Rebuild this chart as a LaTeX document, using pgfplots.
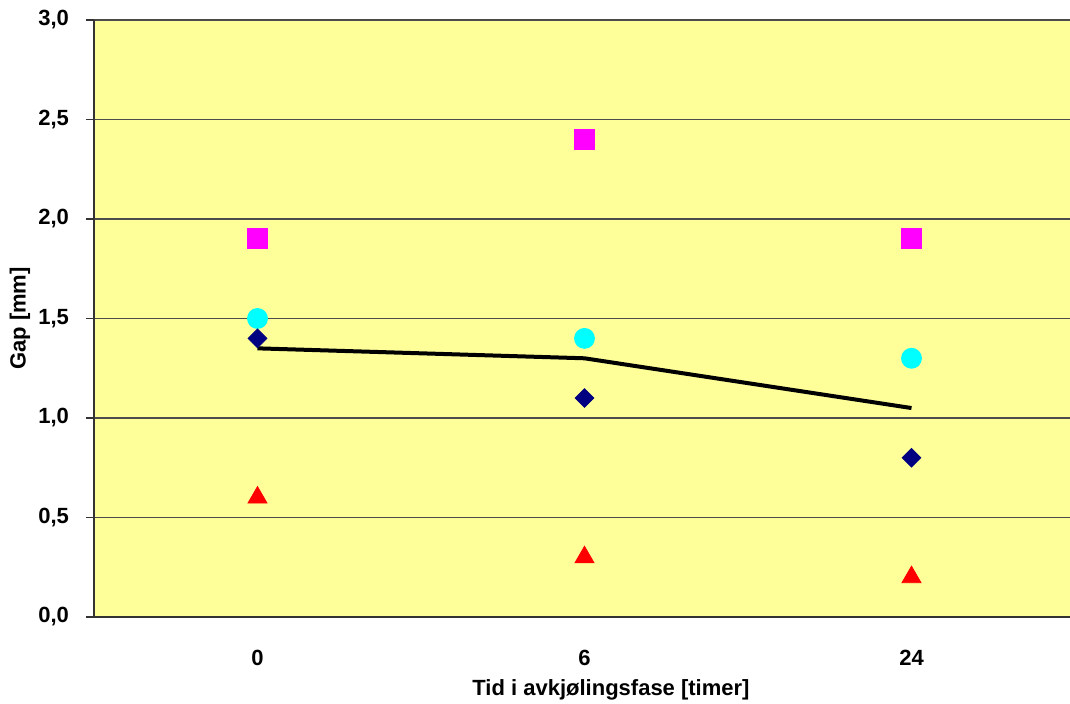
\documentclass[border=0pt]{standalone}
\usepackage{pgfplots}
\pgfplotsset{compat=1.18}
\usepackage{fontspec}
\setmainfont{Liberation Sans}
\definecolor{bgyellow}{HTML}{FFFF99}
\definecolor{navy}{HTML}{000080}
\definecolor{cyanmark}{HTML}{00FFFF}
\definecolor{magentamark}{HTML}{FF00FF}
\begin{document}
\begin{tikzpicture}[x=1pt,y=1pt]
\begin{axis}[
  at={(0,0)}, anchor=south west,
  scale only axis,
  width=490.5pt, height=298.5pt,
  xmin=-0.5, xmax=2.5,
  ymin=0, ymax=3,
  axis background/.style={fill=bgyellow},
  axis x line*=bottom, axis y line*=left,
  axis line style={black!80, line width=0.9pt},
  xtick={0,1,2}, xticklabels={0,6,24},
  extra x ticks={-0.5,0.5,1.5,2.5}, extra x tick labels={},
  extra x tick style={tick style={black!80, line width=0.8pt}, major tick length=4pt},
  major x tick style={draw=none},
  ytick={0,0.5,...,3.0},
  yticklabel style={/pgf/number format/fixed, /pgf/number format/fixed zerofill,
    /pgf/number format/precision=1, /pgf/number format/use comma, xshift=-5pt},
  /pgf/number format/assume math mode=true,
  ymajorgrids,
  grid style={black!70, line width=0.8pt},
  y tick style={black!80, line width=0.8pt},
  tick align=outside, major tick length=4pt,
  every tick label/.append style={font=\bfseries\fontsize{11}{13}\selectfont},
  xticklabel style={yshift=-9pt},
  label style={font=\bfseries\fontsize{11}{13}\selectfont},
  xlabel={Tid i avkjølingsfase [timer]},
  xlabel style={at={(rel axis cs:0.527,0)}, anchor=center, yshift=-36.5pt},
  ylabel={Gap [mm]},
  ylabel style={at={(rel axis cs:0,0.5)}, anchor=center, yshift=37pt},
  clip=false,
]
% black mean line
\addplot[black, line width=2pt, no markers] coordinates {(0,1.35) (1,1.30) (2,1.05)};
% series markers
\addplot[only marks, mark=square*, mark size=5pt, color=magentamark] coordinates {(0,1.9) (1,2.4) (2,1.9)};
\addplot[only marks, mark=*, mark size=5pt, color=cyanmark] coordinates {(0,1.5) (1,1.4) (2,1.3)};
\addplot[only marks, mark=square*, mark size=3.3pt, mark options={rotate=45}, color=navy] coordinates {(0,1.4) (1,1.1) (2,0.8)};
\addplot[only marks, mark=triangle*, mark size=5.5pt, color=red] coordinates {(0,0.6) (1,0.3) (2,0.2)};
\end{axis}
\pgfresetboundingbox
\path (-47pt,-43.5pt) rectangle (488pt,308.5pt);
\end{tikzpicture}
\end{document}
